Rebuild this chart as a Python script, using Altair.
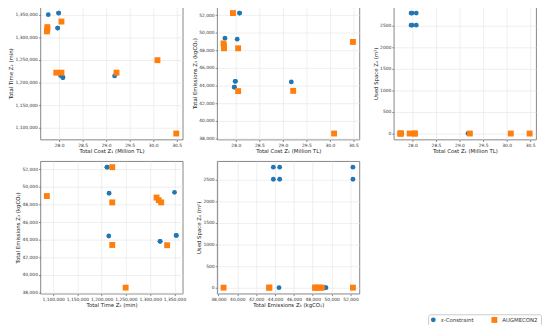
import altair as alt
import pandas as pd

methods = ["ε-Constraint", "AUGMECON2"]
colors = ["#1f77b4", "#ff7f0e"]

# ε-Constraint solutions
eps_cost = [27.77, 27.99, 27.99, 27.97, 27.97, 28.08, 28.08, 28.03, 29.18]
eps_time = [1350000, 1353600, 1353600, 1320300, 1320300, 1211000, 1211000, 1215200, 1214500]
eps_emis = [49400, 44490, 44490, 43820, 43820, 52260, 52260, 49290, 44420]
eps_space = [0, 2790, 2510, 2790, 2510, 2790, 2510, 0, 0]

# AUGMECON2 solutions
aug_cost = [27.94, 27.74, 27.75, 27.75, 28.05, 28.05, 29.22, 30.09, 30.49]
aug_time = [1221700, 1313000, 1317400, 1322500, 1221700, 1334800, 1221700, 1249300, 1087000]
aug_emis = [52260, 48800, 48500, 48250, 48250, 43370, 43400, 38540, 48970]
aug_space = [0, 0, 0, 0, 0, 0, 0, 0, 0]

cost_ticks = [28.0, 28.5, 29.0, 29.5, 30.0, 30.5]
time_ticks = [1100000, 1150000, 1200000, 1250000, 1300000, 1350000]
emis_ticks = [38000, 40000, 42000, 44000, 46000, 48000, 50000, 52000]
space_ticks = [0, 500, 1000, 1500, 2000, 2500]

df = pd.DataFrame({
    "method": [methods[0]] * len(eps_cost) + [methods[1]] * len(aug_cost),
    "cost": eps_cost + aug_cost,
    "time": eps_time + aug_time,
    "emis": eps_emis + aug_emis,
    "space": eps_space + aug_space,
})


def margin_domain(vals, m=0.05):
    lo, hi = min(vals), max(vals)
    r = hi - lo
    return [lo - m * r, hi + m * r]


dom = {
    "cost": margin_domain(eps_cost + aug_cost),
    "time": margin_domain(eps_time + aug_time),
    "emis": margin_domain(eps_emis + aug_emis),
    "space": margin_domain(eps_space + aug_space),
}
titles = {
    "cost": "Total Cost Z₁ (Million TL)",
    "time": "Total Time Z₂ (min)",
    "emis": "Total Emissions Z₃ (kgCO₂)",
    "space": "Used Space Z₄ (m²)",
}
fmts = {"cost": ".1f", "time": ",d", "emis": ",d", "space": "d"}
ticks = {"cost": cost_ticks, "time": time_ticks, "emis": emis_ticks, "space": space_ticks}


def panel(xf, yf):
    return alt.Chart(df).mark_point(filled=True, opacity=1, strokeWidth=0).encode(
        x=alt.X(f"{xf}:Q", scale=alt.Scale(domain=dom[xf], nice=False, zero=False),
                axis=alt.Axis(title=titles[xf], format=fmts[xf], values=ticks[xf])),
        y=alt.Y(f"{yf}:Q", scale=alt.Scale(domain=dom[yf], nice=False, zero=False),
                axis=alt.Axis(title=titles[yf], format=fmts[yf], values=ticks[yf])),
        color=alt.Color("method:N", scale=alt.Scale(domain=methods, range=colors),
                        legend=alt.Legend(title=None)),
        shape=alt.Shape("method:N", scale=alt.Scale(domain=methods, range=["circle", "square"]),
                        legend=alt.Legend(title=None)),
        size=alt.Size("method:N", scale=alt.Scale(domain=methods, range=[24, 36]), legend=None),
    ).properties(width=145, height=135)


chart = alt.concat(
    panel("cost", "time"), panel("cost", "emis"), panel("cost", "space"),
    panel("time", "emis"), panel("emis", "space"),
    columns=3, spacing={"row": 22, "column": 35}, bounds="flush",
).properties(
    padding={"left": 0, "top": -5, "right": 0, "bottom": 0}
).configure_view(
    stroke="#666666", strokeWidth=0.8
).configure_axis(
    labelFont="DejaVu Sans", titleFont="DejaVu Sans",
    labelFontSize=4.5, titleFontSize=5.5, titleFontWeight="normal",
    labelColor="#333333", titleColor="#222222",
    tickSize=2, tickColor="#444444", tickWidth=0.6,
    domain=False, grid=True, gridColor="#e4e4e4", gridWidth=0.6,
    labelPadding=1, titlePadding=1.5, labelOverlap=False,
).configure_legend(
    orient="none", legendX=395, legendY=313, direction="horizontal",
    strokeColor="#cccccc", cornerRadius=2, padding=2.5, fillColor="white",
    labelFont="DejaVu Sans", labelFontSize=5.5, labelColor="#333333",
    symbolSize=20, columnPadding=18, symbolStrokeWidth=0, labelOffset=5,
)

chart.save("out.html", embed_options={"renderer": "svg", "actions": False})
